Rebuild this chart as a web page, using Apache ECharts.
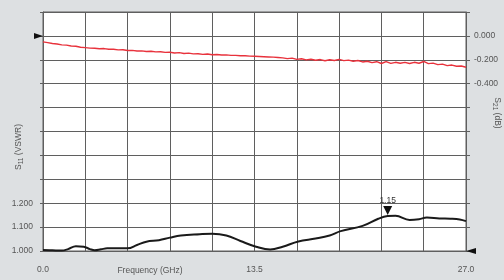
<!DOCTYPE html>
<html><head><meta charset="utf-8">
<script src="https://cdn.jsdelivr.net/npm/echarts@6/dist/echarts.min.js"></script>
<style>html,body{margin:0;padding:0;background:#dde0e2}#c{width:504px;height:280px}</style>
</head><body><div id="c"></div>
<script>
// S21 insertion loss (dB) vs frequency (GHz)
const s21Data = [
[0,-0.050],[0.3,-0.056],[0.6,-0.064],[0.9,-0.068],[1.2,-0.075],[1.5,-0.077],[1.8,-0.084],[2.1,-0.087],[2.4,-0.095],[2.7,-0.098],
[3.0,-0.102],[3.3,-0.103],[3.6,-0.107],[3.9,-0.106],[4.2,-0.112],[4.5,-0.112],[4.8,-0.117],[5.1,-0.116],[5.4,-0.122],[5.7,-0.121],
[6.0,-0.126],[6.3,-0.125],[6.6,-0.130],[6.9,-0.129],[7.2,-0.134],[7.5,-0.133],[7.8,-0.138],[8.1,-0.137],[8.4,-0.143],[8.7,-0.140],
[9.0,-0.147],[9.3,-0.144],[9.6,-0.150],[9.9,-0.149],[10.2,-0.155],[10.5,-0.152],[10.8,-0.158],[11.1,-0.156],[11.4,-0.160],[11.7,-0.159],
[12.0,-0.163],[12.3,-0.163],[12.6,-0.166],[12.9,-0.166],[13.2,-0.169],[13.5,-0.170],[13.8,-0.172],[14.1,-0.174],[14.4,-0.176],[14.7,-0.178],
[15.0,-0.181],[15.3,-0.184],[15.6,-0.190],[15.9,-0.186],[16.2,-0.196],[16.5,-0.191],[16.8,-0.201],[17.1,-0.195],[17.4,-0.204],[17.7,-0.198],
[18.0,-0.208],[18.3,-0.200],[18.6,-0.206],[18.9,-0.197],[19.2,-0.207],[19.5,-0.203],[19.8,-0.212],[20.1,-0.206],[20.4,-0.218],[20.7,-0.212],
[21.0,-0.224],[21.3,-0.216],[21.6,-0.231],[21.9,-0.215],[22.2,-0.230],[22.5,-0.221],[22.8,-0.229],[23.1,-0.222],[23.4,-0.231],[23.7,-0.221],
[24.0,-0.229],[24.3,-0.214],[24.6,-0.232],[24.9,-0.228],[25.2,-0.240],[25.5,-0.236],[25.8,-0.249],[26.1,-0.244],[26.4,-0.254],[26.7,-0.252],
[27.0,-0.262]
];
// S11 VSWR vs frequency (GHz)
const vswrData = [
[0,1.004],[0.6,1.003],[1.2,1.002],[1.6,1.008],[2.1,1.020],[2.6,1.018],[3.0,1.008],[3.3,1.003],[3.7,1.007],[4.1,1.011],
[5.4,1.011],[6.0,1.025],[6.6,1.039],[7.4,1.045],[8.1,1.056],[8.8,1.065],[10.0,1.070],[10.8,1.072],[11.7,1.065],[12.6,1.042],
[13.6,1.018],[14.5,1.006],[15.3,1.018],[16.3,1.040],[17.4,1.052],[18.3,1.065],[19.0,1.083],[20.4,1.105],[21.4,1.135],[22.0,1.146],
[22.5,1.147],[23.4,1.130],[24.0,1.133],[24.5,1.140],[25.3,1.136],[26.0,1.135],[26.6,1.132],[27.0,1.125]
];
const xTickLabels = ['0.0','13.5','27.0'];
const leftTickLabels = ['1.000','1.100','1.200'];
const rightTickLabels = ['0.000','-0.200','-0.400'];
const peakPoint = [22.0, 1.146];
const peakLabel = '1.15';

const F = "'Liberation Sans Narrow','Liberation Sans',sans-serif";
const FS = 8.5;
const gridC = '#5f5f5f';
const labC = '#555';
function fmtFrom(list){ return v => { const s = (Math.abs(v) < 1e-9 ? 0 : v); for (const t of list){ if (Math.abs(parseFloat(t) - s) < 1e-6) return t; } return ''; }; }

const chart = echarts.init(document.getElementById('c'), null, {renderer:'canvas'});
chart.setOption({
  backgroundColor:'#dde0e2',
  animation:false,
  grid:{left:43,right:38,top:12,bottom:29,show:true,backgroundColor:'#ffffff',borderColor:gridC,borderWidth:1},
  xAxis:{type:'value',min:0,max:27,interval:2.7,
    axisLine:{show:true,lineStyle:{color:gridC,width:1}},
    axisTick:{show:true,length:4,lineStyle:{color:gridC}},
    splitLine:{show:true,lineStyle:{color:gridC,width:1}},
    axisLabel:{color:labC,fontFamily:F,fontSize:FS,margin:14,formatter:fmtFrom(xTickLabels)}},
  yAxis:[
    {type:'value',min:1,max:2,interval:0.1,position:'left',
     axisLine:{show:true,lineStyle:{color:gridC}},
     axisTick:{show:true,length:3,lineStyle:{color:gridC}},
     splitLine:{show:true,lineStyle:{color:gridC,width:1}},
     axisLabel:{color:labC,fontFamily:F,fontSize:FS,margin:10,formatter:fmtFrom(leftTickLabels)}},
    {type:'value',min:-1.8,max:0.2,interval:0.2,position:'right',
     axisLine:{show:true,lineStyle:{color:gridC}},
     axisTick:{show:true,length:4,lineStyle:{color:gridC}},
     splitLine:{show:false},
     axisLabel:{color:labC,fontFamily:F,fontSize:FS,margin:8,formatter:fmtFrom(rightTickLabels)}}
  ],
  series:[
    {type:'line',name:'S21',yAxisIndex:1,data:s21Data,showSymbol:false,symbol:'none',
     lineStyle:{color:'#e8323c',width:1.4},
     markPoint:{symbol:'triangle',symbolSize:[6,9],symbolRotate:-90,symbolOffset:[-4.5,0],
       itemStyle:{color:'#111'},label:{show:false},
       data:[{coord:[0,0]}]}},
    {type:'line',name:'S11',yAxisIndex:0,data:vswrData,smooth:0.4,showSymbol:false,symbol:'none',
     lineStyle:{color:'#1a1a1a',width:2},
     markPoint:{symbol:'triangle',itemStyle:{color:'#111'},
       data:[
         {coord:[27,1.0],symbolSize:[6,10],symbolRotate:90,symbolOffset:[5,0],label:{show:false}},
         {coord:peakPoint,symbolSize:[9,9],symbolRotate:180,symbolOffset:[0,-5.5],
          label:{show:true,position:'top',distance:1,formatter:peakLabel,color:'#333',fontFamily:F,fontSize:FS}}
       ]}}
  ],
  graphic:[
    {type:'text',x:150,y:271,style:{text:'Frequency (GHz)',fill:labC,font:FS+"px "+F,align:'center',verticalAlign:'middle'}},
    {type:'text',x:19,y:147,rotation:Math.PI/2,style:{
      rich:{m:{fontFamily:F,fontSize:FS,fill:labC,lineHeight:12,verticalAlign:'middle'},
            s:{fontFamily:F,fontSize:6.5,fill:labC,lineHeight:12,verticalAlign:'bottom'}},
      text:'{m|S}{s|11}{m| (VSWR)}',align:'center',verticalAlign:'middle'}},
    {type:'text',x:497,y:113,rotation:-Math.PI/2,style:{
      rich:{m:{fontFamily:F,fontSize:FS,fill:labC,lineHeight:12,verticalAlign:'middle'},
            s:{fontFamily:F,fontSize:6.5,fill:labC,lineHeight:12,verticalAlign:'bottom'}},
      text:'{m|S}{s|21}{m| (dB)}',align:'center',verticalAlign:'middle'}}
  ]
});
</script></body></html>
